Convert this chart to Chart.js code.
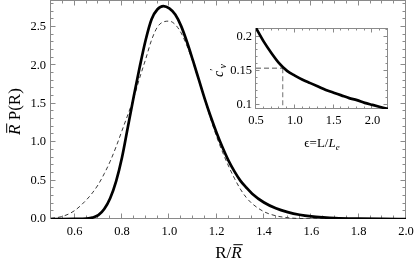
<!DOCTYPE html>
<html>
<head>
<meta charset="utf-8">
<script src="https://cdn.jsdelivr.net/npm/chart.js@4/dist/chart.umd.min.js"></script>
<style>
  html, body { margin: 0; padding: 0; background: #fff; }
  #wrap { position: relative; width: 415px; height: 267px; }
  #main { position: absolute; left: 0; top: 0; }
  #inset { position: absolute; left: 200px; top: 15px; }
</style>
</head>
<body>
<div id="wrap">
  <canvas id="main" width="415" height="267"></canvas>
  <canvas id="inset" width="200" height="140"></canvas>
</div>
<script>
// main plot: R / Rbar grid and the two distributions
const rGrid = [0.50,0.55,0.60,0.65,0.675,0.70,0.725,0.75,0.775,0.80,0.825,0.85,0.875,0.90,0.925,0.95,0.975,
  1.00,1.025,1.05,1.075,1.10,1.125,1.15,1.175,1.20,1.225,1.25,1.275,1.30,1.325,1.35,1.40,1.45,1.50,1.55,
  1.60,1.65,1.70,1.80,1.90,2.00];
const pSolid = [0,0,0.001,0.006,0.018,0.05,0.13,0.27,0.49,0.80,1.20,1.60,1.98,2.33,2.60,2.73,2.77,
  2.74,2.66,2.51,2.30,2.06,1.81,1.56,1.33,1.12,0.93,0.76,0.62,0.50,0.41,0.33,0.215,0.14,0.09,0.055,
  0.033,0.02,0.011,0.004,0.001,0];
const pDashed = [0.008,0.035,0.11,0.25,0.34,0.45,0.59,0.75,0.94,1.15,1.36,1.58,1.84,2.08,2.33,2.50,2.565,
  2.575,2.53,2.42,2.25,2.04,1.80,1.55,1.30,1.07,0.87,0.69,0.53,0.39,0.28,0.20,0.095,0.042,0.017,0.006,
  0.002,0.001,0,0,0,0];
const xMajor = [0.6,0.8,1.0,1.2,1.4,1.6,1.8,2.0];
const yMajor = [0,0.5,1.0,1.5,2.0,2.5];

// inset: c_v against epsilon
const epsVals = [0.5,0.6,0.7,0.8,0.9,1.0,1.1,1.2,1.3,1.4,1.5,1.6,1.7,1.8,1.9,2.0,2.1,2.2];
const cvVals = [0.213,0.193,0.176,0.161,0.150,0.143,0.137,0.132,0.127,0.122,0.118,0.114,0.110,0.107,0.103,0.100,0.097,0.094];
const markEps = 0.844, markCv = 0.154;
const insetXMajor = [0.5,1.0,1.5,2.0];
const insetYMajor = [0.1,0.15,0.2];

const SERIF = '"Liberation Serif", "Times New Roman", serif';
const FRAME = '#8a8a8a';

function range(a, b, step){ const out = []; for (let v = a; v <= b + 1e-9; v += step) out.push(+v.toFixed(4)); return out; }

function drawRich(ctx, segs, cx, cy, size, rot){
  ctx.save();
  ctx.translate(cx, cy);
  if (rot) ctx.rotate(rot);
  ctx.fillStyle = '#000'; ctx.strokeStyle = '#000';
  ctx.textBaseline = 'alphabetic';
  const fontOf = s => `${s.italic ? 'italic ' : ''}${(s.sub || s.sup) ? Math.round(size*0.72) : size}px ${SERIF}`;
  let w = 0;
  segs.forEach(s => { ctx.font = fontOf(s); s.w = ctx.measureText(s.t).width; w += s.w; });
  let x = -w/2;
  const base = size*0.33;
  segs.forEach(s => {
    ctx.font = fontOf(s);
    const dy = s.sub ? size*0.22 : s.sup ? -size*0.38 : 0;
    ctx.fillText(s.t, x, base + dy);
    if (s.over) {
      ctx.lineWidth = Math.max(1, size/17);
      ctx.beginPath();
      ctx.moveTo(x + size*0.12, base - size*0.76);
      ctx.lineTo(x + s.w + size*0.06, base - size*0.76);
      ctx.stroke();
    }
    x += s.w;
  });
  ctx.restore();
}

// frame with inward ticks on all four sides
const framePlugin = {
  id: 'frame',
  beforeDatasetsDraw(chart, args, o){
    const {ctx, chartArea: a, scales: {x, y}} = chart;
    const L = Math.round(a.left) - 0.5, R = Math.round(a.right) - 0.5;
    const T = Math.round(a.top) + 0.5, B = Math.round(a.bottom) - 0.5;
    ctx.save();
    ctx.strokeStyle = FRAME; ctx.lineWidth = 1;
    ctx.strokeRect(L, T, R - L, B - T);
    ctx.beginPath();
    const xt = (vals, len) => vals.forEach(v => {
      const p = Math.round(x.getPixelForValue(v)) - 0.5;
      ctx.moveTo(p, B); ctx.lineTo(p, B - len);
      ctx.moveTo(p, T); ctx.lineTo(p, T + len);
    });
    const yt = (vals, len) => vals.forEach(v => {
      const p = Math.round(y.getPixelForValue(v)) - 0.5;
      ctx.moveTo(L, p); ctx.lineTo(L + len, p);
      ctx.moveTo(R, p); ctx.lineTo(R - len, p);
    });
    xt(o.xMinor, o.minorLen); xt(o.xMajor, o.majorLen);
    yt(o.yMinor, o.minorLen); yt(o.yMajor, o.majorLen);
    ctx.stroke();
    ctx.restore();
  },
  afterDraw(chart, args, o){
    (o.titles || []).forEach(t => t(chart.ctx, chart.chartArea));
  }
};

function fixedScale(ticks, size){
  return {
    afterBuildTicks: s => { s.ticks = ticks.map(v => ({ value: v })); },
    afterFit: s => {
      if (s.isHorizontal()) s.height = size; else s.width = size;
      s.paddingLeft = 0; s.paddingRight = 0; s.paddingTop = 0; s.paddingBottom = 0;
    }
  };
}

new Chart(document.getElementById('main'), {
  type: 'line',
  data: {
    datasets: [
      { data: rGrid.map((r, i) => ({ x: r, y: pSolid[i] })), borderColor: '#000', borderWidth: 2.7,
        pointRadius: 0, cubicInterpolationMode: 'monotone' },
      { data: rGrid.map((r, i) => ({ x: r, y: pDashed[i] })), borderColor: '#222', borderWidth: 0.9,
        borderDash: [4, 3], pointRadius: 0, cubicInterpolationMode: 'monotone' }
    ]
  },
  options: {
    responsive: false, animation: false,
    layout: { padding: { left: 0, right: 9, top: 0, bottom: 0 } },
    plugins: {
      legend: { display: false }, tooltip: { enabled: false },
      frame: {
        xMajor, yMajor, xMinor: range(0.5, 2.0, 0.05), yMinor: range(0, 2.8, 0.1),
        majorLen: 5, minorLen: 3,
        titles: [
          (ctx, a) => drawRich(ctx, [{ t: 'R', italic: true, over: true }, { t: ' P(R)' }], 14, (a.top + a.bottom)/2 + 2, 17, -Math.PI/2),
          (ctx, a) => drawRich(ctx, [{ t: 'R/' }, { t: 'R', italic: true, over: true }], (a.left + a.right)/2, a.bottom + 33, 17)
        ]
      }
    },
    scales: {
      x: {
        type: 'linear', min: 0.5, max: 2.0,
        grid: { display: false, drawTicks: false }, border: { display: false },
        ticks: { color: '#000', padding: 5, maxRotation: 0, font: { family: SERIF, size: 12.5 },
          callback: v => v.toFixed(1) },
        ...fixedScale(xMajor, 48)
      },
      y: {
        type: 'linear', min: 0, max: 2.85,
        grid: { display: false, drawTicks: false }, border: { display: false },
        ticks: { color: '#000', padding: 5, font: { family: SERIF, size: 12.5 },
          callback: v => v.toFixed(1) },
        ...fixedScale(yMajor, 51)
      }
    }
  },
  plugins: [framePlugin]
});

new Chart(document.getElementById('inset'), {
  type: 'line',
  data: {
    datasets: [
      { data: epsVals.map((e, i) => ({ x: e, y: cvVals[i] })), borderColor: '#000', borderWidth: 2.7,
        pointRadius: 0, cubicInterpolationMode: 'monotone' },
      { data: [{ x: 0.5, y: markCv }, { x: markEps, y: markCv }], borderColor: '#555', borderWidth: 1,
        borderDash: [5, 3], pointRadius: 0 },
      { data: [{ x: markEps, y: markCv }, { x: markEps, y: 0.094 }], borderColor: '#888', borderWidth: 1.2,
        borderDash: [5, 3], pointRadius: 0 }
    ]
  },
  options: {
    responsive: false, animation: false,
    layout: { padding: { left: 0, right: 12, top: 13, bottom: 0 } },
    plugins: {
      legend: { display: false }, tooltip: { enabled: false },
      frame: {
        xMajor: insetXMajor, yMajor: insetYMajor, xMinor: range(0.5, 2.2, 0.1), yMinor: range(0.1, 0.21, 0.01),
        majorLen: 4, minorLen: 2,
        titles: [
          (ctx, a) => drawRich(ctx, [{ t: 'c', italic: true }, { t: '\u2032', sup: true }, { t: 'v', italic: true, sub: true }], 18, (a.top + a.bottom)/2 + 2, 14, -Math.PI/2),
          (ctx, a) => drawRich(ctx, [{ t: '\u03f5=L/' }, { t: 'L', italic: true }, { t: 'e', italic: true, sub: true }], (a.left + a.right)/2, a.bottom + 34, 13)
        ]
      }
    },
    scales: {
      x: {
        type: 'linear', min: 0.5, max: 2.2,
        grid: { display: false, drawTicks: false }, border: { display: false },
        ticks: { color: '#000', padding: 4, maxRotation: 0, font: { family: SERIF, size: 12.5 },
          callback: v => v.toFixed(1) },
        ...fixedScale(insetXMajor, 46)
      },
      y: {
        type: 'linear', min: 0.094, max: 0.213,
        grid: { display: false, drawTicks: false }, border: { display: false },
        ticks: { color: '#000', padding: 4, font: { family: SERIF, size: 12.5 },
          callback: v => String(+v.toFixed(2)) },
        ...fixedScale(insetYMajor, 56)
      }
    }
  },
  plugins: [framePlugin]
});
</script>
</body>
</html>
